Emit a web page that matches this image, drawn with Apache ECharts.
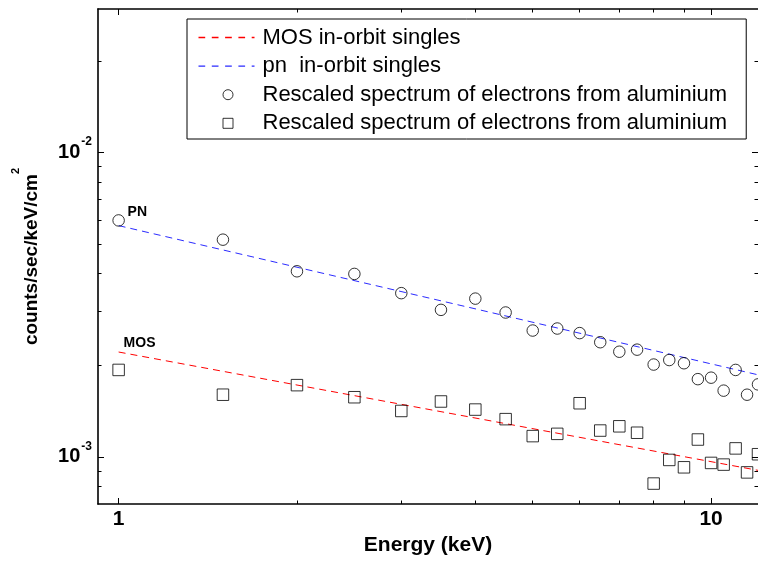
<!DOCTYPE html>
<html>
<head>
<meta charset="utf-8">
<script src="https://cdn.jsdelivr.net/npm/echarts@6/dist/echarts.min.js"></script>
<style>
html,body{margin:0;padding:0;background:#fff;}
#chart{width:758px;height:562px;}
</style>
</head>
<body>
<div id="chart"></div>
<script>
// ---- data ----
const energy = [1, 1.5, 2, 2.5, 3, 3.5, 4, 4.5, 5, 5.5, 6, 6.5, 7, 7.5, 8, 8.5, 9, 9.5, 10, 10.5, 11, 11.5, 12];
const pnElectrons = [5.98e-3, 5.17e-3, 4.07e-3, 3.99e-3, 3.45e-3, 3.04e-3, 3.31e-3, 2.98e-3, 2.60e-3, 2.64e-3, 2.55e-3, 2.38e-3,
                     2.215e-3, 2.25e-3, 2.01e-3, 2.08e-3, 2.03e-3, 1.80e-3, 1.82e-3, 1.65e-3, 1.93e-3, 1.60e-3, 1.73e-3];
const mosElectrons = [1.93e-3, 1.60e-3, 1.72e-3, 1.57e-3, 1.415e-3, 1.52e-3, 1.43e-3, 1.33e-3, 1.17e-3, 1.19e-3, 1.50e-3, 1.22e-3,
                      1.26e-3, 1.20e-3, 8.17e-4, 9.77e-4, 9.24e-4, 1.14e-3, 9.55e-4, 9.43e-4, 1.066e-3, 8.89e-4, 1.02e-3];
const pnLineEnergy = [1, 12];
const pnLineCounts = [5.75e-3, 1.86e-3];
const mosLineEnergy = [1, 12];
const mosLineCounts = [2.21e-3, 9.03e-4];

const seriesNames = ['MOS in-orbit singles', 'pn  in-orbit singles',
                     'Rescaled spectrum of electrons from aluminium', 'Rescaled spectrum of electrons from aluminium '];
const curveLabels = ['PN', 'MOS'];

const xMajorTicks = [1, 10];
const xMinorTicks = [2, 3, 4, 5, 6, 7, 8, 9];
const yMajorTicks = [1e-3, 1e-2];
const yMinorTicks = [8e-4, 9e-4, 2e-3, 3e-3, 4e-3, 5e-3, 6e-3, 7e-3, 8e-3, 9e-3, 2e-2];

const X_MIN = 0.923, X_MAX = 12;
const Y_MIN = 7e-4, Y_MAX = 0.0296;

// ---- chart ----
const FONT = '"Liberation Sans", Arial, Helvetica, sans-serif';
const RED = '#ff0000', BLUE = '#2b2bff';
const chart = echarts.init(document.getElementById('chart'), null, {renderer: 'canvas'});

function pairs(xs, ys) { return xs.map((x, i) => [x, ys[i]]); }

function baseAxis(extra) {
  return Object.assign({
    type: 'log', logBase: 10, gridIndex: 0,
    splitLine: {show: false}, minorTick: {show: false}, minorSplitLine: {show: false},
    axisPointer: {show: false}, silent: true
  }, extra);
}
function supExp(v) {
  const e = Math.round(Math.log10(v));
  return '{b|10}{s|' + e + '}';
}

const xAxes = [
  baseAxis({min: X_MIN, max: X_MAX, position: 'bottom',
    name: 'Energy (keV)', nameLocation: 'middle', nameGap: 31,
    nameTextStyle: {fontFamily: FONT, fontWeight: 'bold', fontSize: 21, color: '#000'},
    axisLine: {show: true, lineStyle: {color: '#000', width: 1.6}},
    axisTick: {show: true, inside: true, length: 6, customValues: xMajorTicks, lineStyle: {color: '#000', width: 1}},
    axisLabel: {show: true, customValues: xMajorTicks, margin: 5, fontFamily: FONT, fontWeight: 'bold', fontSize: 21, color: '#000',
      formatter: v => String(Math.round(v))}}),
  baseAxis({min: X_MIN, max: X_MAX, position: 'bottom',
    axisLine: {show: false},
    axisTick: {show: true, inside: true, length: 3.5, customValues: xMinorTicks, lineStyle: {color: '#000', width: 1}},
    axisLabel: {show: false}}),
  baseAxis({min: X_MIN, max: X_MAX, position: 'top',
    axisLine: {show: true, lineStyle: {color: '#000', width: 1.6}},
    axisTick: {show: true, inside: true, length: 6, customValues: xMajorTicks, lineStyle: {color: '#000', width: 1}},
    axisLabel: {show: false}}),
  baseAxis({min: X_MIN, max: X_MAX, position: 'top',
    axisLine: {show: false},
    axisTick: {show: true, inside: true, length: 3.5, customValues: xMinorTicks, lineStyle: {color: '#000', width: 1}},
    axisLabel: {show: false}})
];

const yAxes = [
  baseAxis({min: Y_MIN, max: Y_MAX, position: 'left',
    name: 'counts/sec/keV/cm{s|2}', nameLocation: 'middle', nameGap: 44, nameRotate: 90,
    nameTextStyle: {fontFamily: FONT, fontWeight: 'bold', fontSize: 19, color: '#000',
      rich: {s: {fontFamily: FONT, fontWeight: 'bold', fontSize: 11, color: '#000', padding: [0, 0, 33, 0]}}},
    axisLine: {show: true, lineStyle: {color: '#000', width: 1.6}},
    axisTick: {show: true, inside: true, length: 6, customValues: yMajorTicks, lineStyle: {color: '#000', width: 1}},
    axisLabel: {show: true, customValues: yMajorTicks, margin: 6, formatter: supExp,
      rich: {
        b: {fontFamily: FONT, fontWeight: 'bold', fontSize: 20, color: '#000'},
        s: {fontFamily: FONT, fontWeight: 'bold', fontSize: 12, color: '#000', padding: [0, 0, 21, 1]}
      }}}),
  baseAxis({min: Y_MIN, max: Y_MAX, position: 'left',
    axisLine: {show: false},
    axisTick: {show: true, inside: true, length: 3.5, customValues: yMinorTicks, lineStyle: {color: '#000', width: 1}},
    axisLabel: {show: false}}),
  baseAxis({min: Y_MIN, max: Y_MAX, position: 'right',
    axisLine: {show: false},
    axisTick: {show: true, inside: true, length: 6, customValues: yMajorTicks, lineStyle: {color: '#000', width: 1}},
    axisLabel: {show: false}}),
  baseAxis({min: Y_MIN, max: Y_MAX, position: 'right',
    axisLine: {show: false},
    axisTick: {show: true, inside: true, length: 3.5, customValues: yMinorTicks, lineStyle: {color: '#000', width: 1}},
    axisLabel: {show: false}})
];

function curveLabel(text, x, y, offset) {
  return {
    symbol: 'circle', symbolSize: 1, silent: true,
    itemStyle: {color: 'rgba(0,0,0,0)'},
    label: {show: true, position: 'inside', formatter: text, align: 'left', verticalAlign: 'middle',
      offset: offset, fontFamily: FONT, fontWeight: 'bold', fontSize: 14, color: '#000'},
    data: [{coord: [x, y]}]
  };
}

// legend glyphs (icon shapes inside a 59x10 box)
const squareIcon = 'path://M0,0M59,10M24.5,0H34.5V10H24.5Z';
const dashIcon = 'path://M0,0M59,10M0,4.3H6.7V5.7H0Z M13.3,4.3H20V5.7H13.3Z M26.6,4.3H33.3V5.7H26.6Z M39.9,4.3H46.6V5.7H39.9Z M53.2,4.3H56V5.7H53.2Z';

const option = {
  backgroundColor: '#fff',
  animation: false,
  grid: {left: 98, top: 9, right: 0, bottom: 58, containLabel: false, outerBoundsMode: 'none'},
  xAxis: xAxes,
  yAxis: yAxes,
  legend: {
    show: true, orient: 'vertical', left: 187, top: 19,
    padding: [7.5, 13, 4.7, 11],
    itemWidth: 59, itemHeight: 10, itemGap: 6.6,
    borderColor: '#000', borderWidth: 1, backgroundColor: '#fff',
    selectedMode: false,
    textStyle: {fontFamily: FONT, fontSize: 22, color: '#000', lineHeight: 22},
    data: [
      {name: seriesNames[0], icon: dashIcon, itemStyle: {color: RED, borderWidth: 0}},
      {name: seriesNames[1], icon: dashIcon, itemStyle: {color: BLUE, borderWidth: 0}},
      {name: seriesNames[2], icon: 'circle', itemStyle: {color: 'rgba(0,0,0,0)', borderColor: '#000', borderWidth: 1}},
      {name: seriesNames[3], icon: squareIcon, itemStyle: {color: 'rgba(0,0,0,0)', borderColor: '#000', borderWidth: 1}}
    ]
  },
  series: [
    {
      name: seriesNames[0], type: 'line', xAxisIndex: 0, yAxisIndex: 0,
      data: pairs(mosLineEnergy, mosLineCounts), symbol: 'none', showSymbol: false, clip: false,
      lineStyle: {color: RED, width: 1, type: [7, 5]}, itemStyle: {color: RED},
      emphasis: {disabled: true}, silent: true, z: 2,
      markPoint: curveLabel(curveLabels[1], mosLineEnergy[0], mosLineCounts[0], [5, -9])
    },
    {
      name: seriesNames[1], type: 'line', xAxisIndex: 0, yAxisIndex: 0,
      data: pairs(pnLineEnergy, pnLineCounts), symbol: 'none', showSymbol: false, clip: false,
      lineStyle: {color: BLUE, width: 1, type: [7, 5]}, itemStyle: {color: BLUE},
      emphasis: {disabled: true}, silent: true, z: 2,
      markPoint: curveLabel(curveLabels[0], pnLineEnergy[0], pnLineCounts[0], [9, -13])
    },
    {
      name: seriesNames[2], type: 'scatter', xAxisIndex: 0, yAxisIndex: 0,
      data: pairs(energy, pnElectrons), symbol: 'circle', symbolSize: 11.5, clip: false,
      itemStyle: {color: 'rgba(0,0,0,0)', borderColor: '#000', borderWidth: 1},
      emphasis: {disabled: true}, silent: true, z: 3
    },
    {
      name: seriesNames[3], type: 'scatter', xAxisIndex: 0, yAxisIndex: 0,
      data: pairs(energy, mosElectrons), symbol: 'rect', symbolSize: 11.5, clip: false,
      itemStyle: {color: 'rgba(0,0,0,0)', borderColor: '#000', borderWidth: 1},
      emphasis: {disabled: true}, silent: true, z: 3
    }
  ]
};
chart.setOption(option);
</script>
</body>
</html>
